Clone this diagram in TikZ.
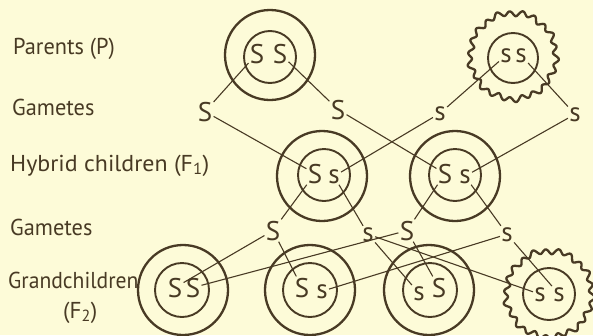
\documentclass[tikz,border=0pt]{standalone}
\usepackage{fontspec}
\setmainfont{PT Sans}
\definecolor{bg}{RGB}{253,251,216}
\definecolor{ink}{RGB}{72,58,36}
\begin{document}
\begin{tikzpicture}[x=1pt,y=-1pt,
 ring/.style={draw=ink,line width=2.3pt},
 inring/.style={draw=ink,line width=1.9pt},
 link/.style={draw=ink,line width=1.1pt},
 gene/.style={text=ink,font=\fontsize{27}{27}\selectfont,inner sep=1.2pt,anchor=base},
 lbl/.style={text=ink,font=\fontsize{23}{23}\selectfont,anchor=base west,inner sep=0pt}]
\fill[bg] (0,0) rectangle (593,335);
\useasboundingbox (0,0) rectangle (593,335);
% labels
\node[lbl] (lp) at (13,54) {\scalebox{0.97}[1]{Parents (P)}};
\node[lbl] (lg1) at (12,115) {\scalebox{0.97}[1]{Gametes}};
\node[lbl] (lh) at (10,171) {\scalebox{1.04}[1]{Hybrid children (F\textsubscript{1})}};
\node[lbl] (lg2) at (10,235) {\scalebox{0.97}[1]{Gametes}};
\node[lbl] (lgc) at (8,288) {\scalebox{0.94}[1]{Grandchildren}};
\node[lbl] (lf2) at (63,318) {(F\textsubscript{2})};
% circles
\draw[ring] (270,55) circle (45);
\draw[inring] (270,57) circle (26);
\draw[ring,shift={(513,56)}] plot[domain=0:360,samples=361] ({(43+2.4*sin(22*\x)+0.9*sin(9*\x))*cos(\x)},{(43+2.4*sin(22*\x)+0.9*sin(9*\x))*sin(\x)}) -- cycle;
\draw[inring] (513,58) circle (25);
\draw[ring] (322,176) circle (45);
\draw[inring] (324,175) circle (26);
\draw[ring] (455,176) circle (45);
\draw[inring] (455,175) circle (26);
\draw[ring] (183,290) circle (45);
\draw[inring] (182,290) circle (27);
\draw[ring] (310,290) circle (45);
\draw[inring] (310,290) circle (27);
\draw[ring] (429,290) circle (45);
\draw[inring] (430,290) circle (27);
\draw[ring,shift={(549,294)}] plot[domain=0:360,samples=361] ({(43+2.4*sin(22*\x)+0.9*sin(9*\x))*cos(\x)},{(43+2.4*sin(22*\x)+0.9*sin(9*\x))*sin(\x)}) -- cycle;
\draw[inring] (549,294) circle (26);
% letters
\node[gene] (p1a) at (257,63) {S};
\node[gene] (p1b) at (280,63) {S};
\node[gene] (p2a) at (506,62) {s};
\node[gene] (p2b) at (521,62) {s};
\node[gene] (g1a) at (205,121) {S};
\node[gene] (g1b) at (338,119) {S};
\node[gene] (g1c) at (440,120) {s};
\node[gene] (g1d) at (575,121) {s};
\node[gene] (f1a) at (315,183) {S};
\node[gene] (f1b) at (334,183) {s};
\node[gene] (f1c) at (445,183) {S};
\node[gene] (f1d) at (465,183) {s};
\node[gene] (g2a) at (273,240) {S};
\node[gene] (g2b) at (368,241) {s};
\node[gene] (g2c) at (407,240) {S};
\node[gene] (g2d) at (507,241) {s};
\node[gene] (h1a) at (175,297) {S};
\node[gene] (h1b) at (193,297) {S};
\node[gene] (h2a) at (302,297) {S};
\node[gene] (h2b) at (322,298) {s};
\node[gene] (h3a) at (419,300) {s};
\node[gene] (h3b) at (439,297) {S};
\node[gene] (h4a) at (540,301) {s};
\node[gene] (h4b) at (559,301) {s};
% connectors
\draw[link] (p1a) -- (g1a);
\draw[link] (p1b) -- (g1b);
\draw[link] (p2a) -- (g1c);
\draw[link] (p2b) -- (g1d);
\draw[link] (g1a) -- (f1a);
\draw[link] (g1b) -- (f1c);
\draw[link] (g1c) -- (f1b);
\draw[link] (g1d) -- (f1d);
\draw[link] (f1a) -- (g2a);
\draw[link] (f1b) -- (g2b);
\draw[link] (f1c) -- (g2c);
\draw[link] (f1d) -- (g2d);
\draw[link] (g2a) -- (h1a);
\draw[link] (g2c) -- (h1b);
\draw[link] (g2a) -- (h2a);
\draw[link] (g2d) -- (h2b);
\draw[link] (g2b) -- (h3a);
\draw[link] (g2c) -- (h3b);
\draw[link] (g2b) -- (h4a);
\draw[link] (g2d) -- (h4b);
\end{tikzpicture}
\end{document}
